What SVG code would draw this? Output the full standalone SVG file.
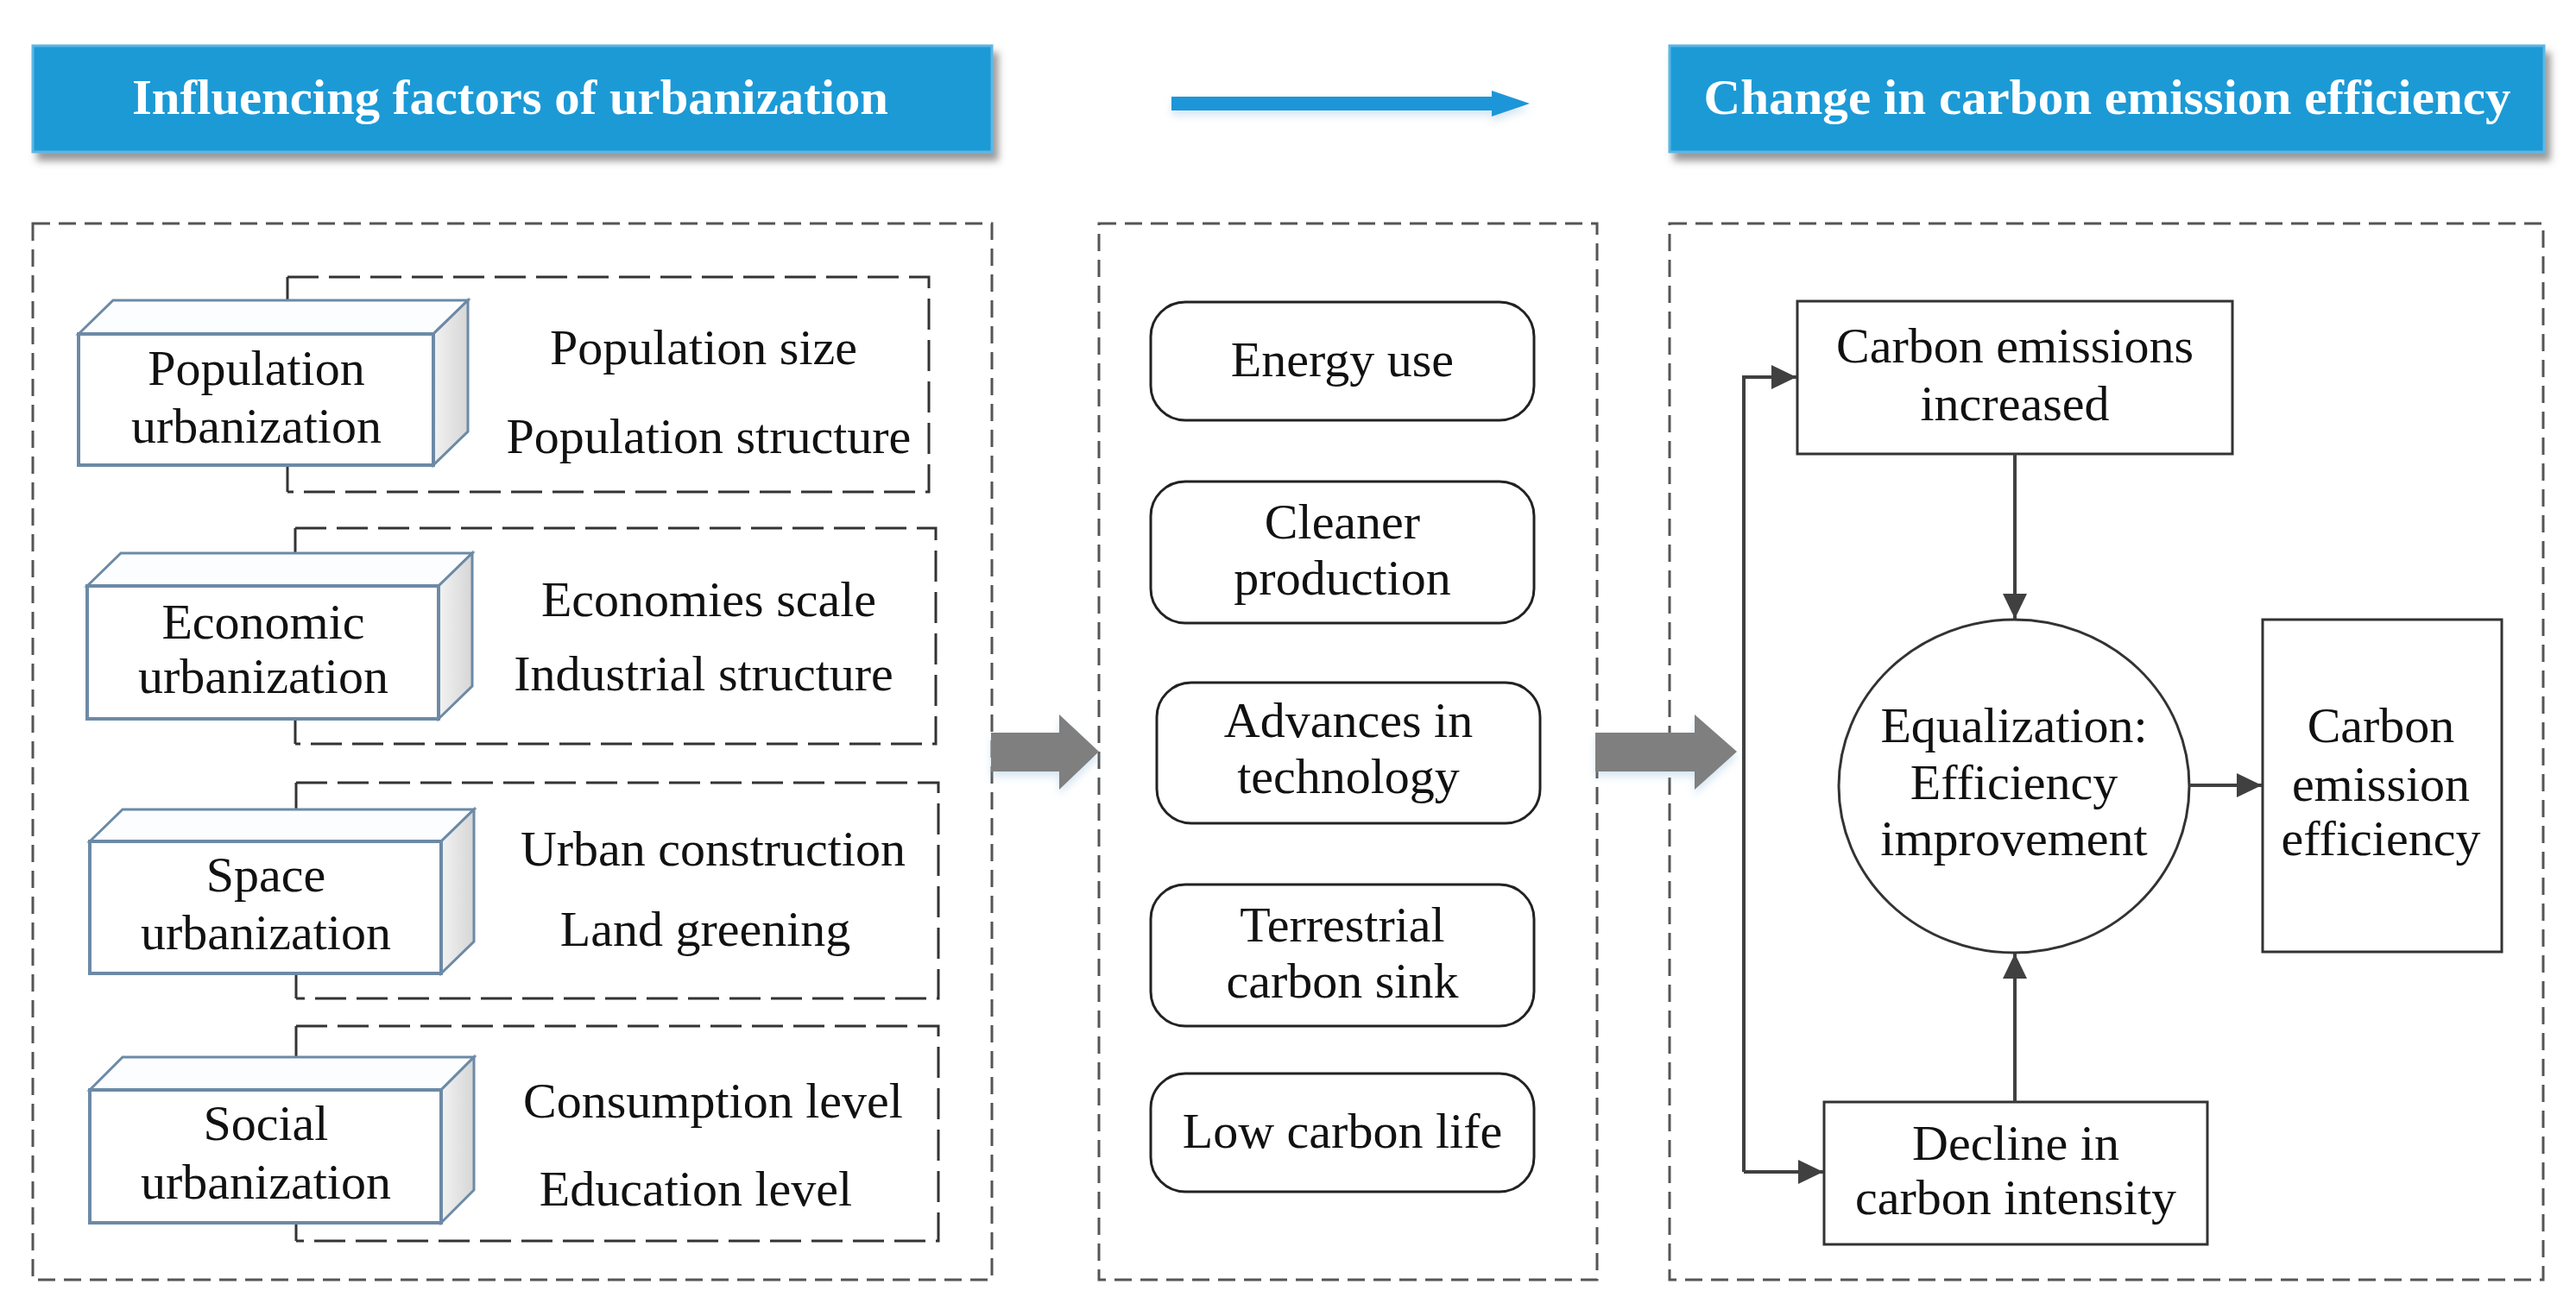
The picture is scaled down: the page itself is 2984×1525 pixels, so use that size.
<svg xmlns="http://www.w3.org/2000/svg" width="2984" height="1525" viewBox="0 0 2984 1525">
<defs>
<style>
text{font-family:"Liberation Serif","Times New Roman",serif;fill:#111;font-size:58px;text-anchor:middle}
.hdr{fill:#1b9ad6;stroke:#5bb6e3;stroke-width:3}
.htxt{fill:#fff;font-weight:bold;font-size:58px}
.cont{fill:none;stroke:#555;stroke-width:3;stroke-dasharray:20 10}
.sub{fill:none;stroke:#333;stroke-width:3;stroke-dasharray:36 12}
.stub{fill:none;stroke:#333;stroke-width:3}
.front{fill:#fff;stroke:#6c8aa6;stroke-width:4}
.top{fill:#fcfdfe;stroke:#6c8aa6;stroke-width:3}
.side{fill:url(#sideg);stroke:#6c8aa6;stroke-width:3}
.rr{fill:#fff;stroke:#222;stroke-width:3}
.box{fill:#fff;stroke:#333;stroke-width:3}
.conn{fill:none;stroke:#404040;stroke-width:4}
.grey{fill:#7f7f7f}
</style>
<linearGradient id="sideg" x1="0" y1="0" x2="1" y2="0">
<stop offset="0" stop-color="#f2f2f2"/>
<stop offset="1" stop-color="#d6d6d6"/>
</linearGradient>
<filter id="shadow" x="-5%" y="-20%" width="115%" height="160%">
<feDropShadow dx="6" dy="9" stdDeviation="4" flood-color="#555" flood-opacity="0.6"/>
</filter>
<filter id="soft" x="-10%" y="-30%" width="130%" height="180%">
<feDropShadow dx="0" dy="6" stdDeviation="5" flood-color="#8fb8d8" flood-opacity="0.35"/>
</filter>
<marker id="ah" markerUnits="userSpaceOnUse" markerWidth="30" markerHeight="28" refX="29" refY="14" orient="auto">
<path d="M0,0 L29,14 L0,28 z" fill="#404040"/>
</marker>
</defs>

<g id="header-left">
<rect class="hdr" x="38" y="53" width="1111" height="123" filter="url(#shadow)"/>
<text class="htxt" x="591" y="132" textLength="876" lengthAdjust="spacingAndGlyphs">Influencing factors of urbanization</text>
</g>
<g id="header-right">
<rect class="hdr" x="1934" y="53" width="1013" height="123" filter="url(#shadow)"/>
<text class="htxt" x="2441" y="132" textLength="935" lengthAdjust="spacingAndGlyphs">Change in carbon emission efficiency</text>
</g>
<g id="blue-arrow">
<polygon points="1357,112 1728,112 1728,105 1772,120 1728,135 1728,128 1357,128" fill="#1f96d8" filter="url(#soft)"/>
</g>

<g id="container-left">
<rect class="cont" x="38" y="259" width="1111" height="1224"/>
</g>
<g id="container-middle">
<rect class="cont" x="1273" y="259" width="577" height="1224"/>
</g>
<g id="container-right">
<rect class="cont" x="1934" y="259" width="1012" height="1224"/>
</g>

<g id="population">
<path class="sub" d="M333,321 H1076 V570 H333"/>
<path class="stub" d="M333,321 V348 M333,539 V570"/>
<polygon class="top" points="91,387 131,348 542,348 502,387"/>
<polygon class="side" points="502,387 542,348 542,500 502,539"/>
<rect class="front" x="91" y="387" width="411" height="152"/>
<text x="297" y="446">Population</text>
<text x="297" y="513">urbanization</text>
<text x="815" y="422">Population size</text>
<text x="821" y="525">Population structure</text>
</g>

<g id="economic">
<path class="sub" d="M342,612 H1084 V862 H342"/>
<path class="stub" d="M342,612 V641 M342,833 V862"/>
<polygon class="top" points="101,679 140,641 547,641 508,679"/>
<polygon class="side" points="508,679 547,641 547,795 508,833"/>
<rect class="front" x="101" y="679" width="407" height="154"/>
<text x="305" y="740">Economic</text>
<text x="305" y="803">urbanization</text>
<text x="821" y="714">Economies scale</text>
<text x="815" y="800">Industrial structure</text>
</g>

<g id="space">
<path class="sub" d="M343,907 H1087 V1157 H343"/>
<path class="stub" d="M343,907 V938 M343,1128 V1157"/>
<polygon class="top" points="104,975 142,938 549,938 511,975"/>
<polygon class="side" points="511,975 549,938 549,1091 511,1128"/>
<rect class="front" x="104" y="975" width="407" height="153"/>
<text x="308" y="1033">Space</text>
<text x="308" y="1100">urbanization</text>
<text x="826" y="1003">Urban construction</text>
<text x="817" y="1096">Land greening</text>
</g>

<g id="social">
<path class="sub" d="M343,1189 H1087 V1438 H343"/>
<path class="stub" d="M343,1189 V1225 M343,1417 V1438"/>
<polygon class="top" points="104,1263 142,1225 549,1225 511,1263"/>
<polygon class="side" points="511,1263 549,1225 549,1379 511,1417"/>
<rect class="front" x="104" y="1263" width="407" height="154"/>
<text x="308" y="1321">Social</text>
<text x="308" y="1389">urbanization</text>
<text x="826" y="1295">Consumption level</text>
<text x="806" y="1397">Education level</text>
</g>

<g id="energy-use">
<rect class="rr" x="1333" y="350" width="444" height="137" rx="40" ry="40"/>
<text x="1555" y="436">Energy use</text>
</g>
<g id="cleaner-production">
<rect class="rr" x="1333" y="558" width="444" height="164" rx="40" ry="40"/>
<text x="1555" y="624">Cleaner</text>
<text x="1555" y="689">production</text>
</g>
<g id="advances-technology">
<rect class="rr" x="1340" y="791" width="444" height="163" rx="40" ry="40"/>
<text x="1562" y="854">Advances in</text>
<text x="1562" y="919">technology</text>
</g>
<g id="terrestrial-sink">
<rect class="rr" x="1333" y="1025" width="444" height="164" rx="40" ry="40"/>
<text x="1555" y="1091">Terrestrial</text>
<text x="1555" y="1156">carbon sink</text>
</g>
<g id="low-carbon-life">
<rect class="rr" x="1333" y="1244" width="444" height="137" rx="40" ry="40"/>
<text x="1555" y="1330">Low carbon life</text>
</g>

<g id="emissions-increased">
<rect class="box" x="2082" y="349" width="504" height="177"/>
<text x="2334" y="420">Carbon emissions</text>
<text x="2334" y="487">increased</text>
</g>
<g id="equalization">
<ellipse fill="#fff" stroke="#333" stroke-width="3" cx="2333" cy="911" rx="203" ry="193"/>
<text x="2333" y="860">Equalization:</text>
<text x="2333" y="926">Efficiency</text>
<text x="2333" y="991">improvement</text>
</g>
<g id="carbon-efficiency">
<rect class="box" x="2621" y="718" width="277" height="385"/>
<text x="2758" y="860">Carbon</text>
<text x="2758" y="928">emission</text>
<text x="2758" y="991">efficiency</text>
</g>
<g id="decline-intensity">
<rect class="box" x="2113" y="1277" width="444" height="165"/>
<text x="2335" y="1344">Decline in</text>
<text x="2335" y="1407">carbon intensity</text>
</g>

<g id="connectors">
<polygon class="grey" points="1148,849 1227,849 1227,828 1273,871 1227,915 1227,894 1148,894" filter="url(#soft)"/>
<polygon class="grey" points="1848,849 1963,849 1963,828 2012,871 1963,915 1963,894 1848,894" filter="url(#soft)"/>
<path class="conn" d="M2020,1358 V437 H2081" marker-end="url(#ah)"/>
<path class="conn" d="M2020,1358 H2112" marker-end="url(#ah)"/>
<path class="conn" d="M2334,526 V717" marker-end="url(#ah)"/>
<path class="conn" d="M2334,1277 V1105" marker-end="url(#ah)"/>
<path class="conn" d="M2536,910 H2620" marker-end="url(#ah)"/>
</g>
</svg>
